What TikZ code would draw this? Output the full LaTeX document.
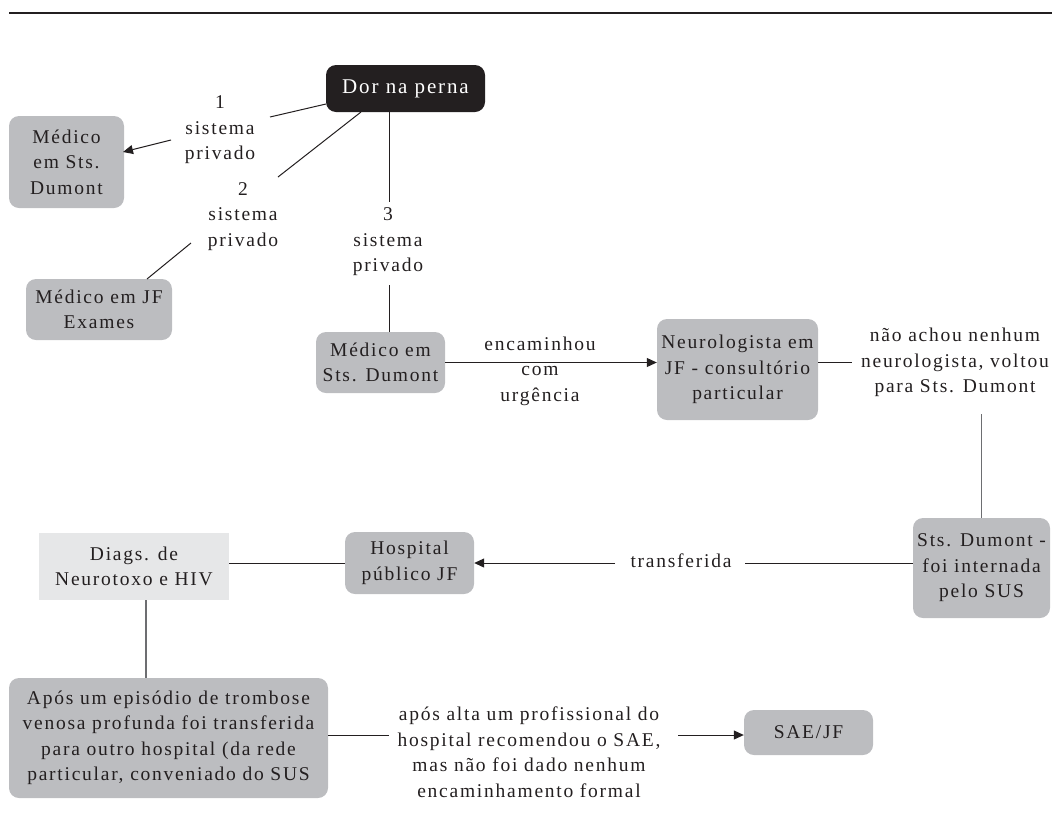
\documentclass[tikz,border=0pt]{standalone}
\usepackage{fontspec}
\setmainfont{Liberation Serif}[LetterSpace=9]
\usetikzlibrary{arrows.meta}
\definecolor{ink}{HTML}{231F20}
\definecolor{boxgray}{HTML}{BCBDC0}
\definecolor{lightbox}{HTML}{E6E7E8}
\definecolor{midline}{HTML}{6D6E71}
\newcommand{\txtfont}{\fontsize{19.5}{25.5}\selectfont}
\newcommand{\dorfont}{\fontsize{21}{26}\selectfont}
\begin{document}
\begin{tikzpicture}[x=1pt,y=-1pt,
  box/.style={rounded corners=10pt, fill=boxgray, text=ink, align=center, inner sep=0pt, font=\txtfont},
  lbox/.style={fill=lightbox, text=ink, align=center, inner sep=0pt, font=\txtfont},
  dorbox/.style={rounded corners=10pt, fill=ink, text=white, align=center, inner sep=0pt, font=\dorfont},
  lab/.style={text=ink, align=center, inner sep=0pt, font=\txtfont},
  conn/.style={draw=ink, line width=1pt},
  gconn/.style={draw=midline, line width=1.3pt},
  arr/.style={conn, -{Triangle[length=10pt,width=9pt]}}]
\useasboundingbox (0,0) rectangle (1052,828);
\draw[draw=ink, line width=1.5pt] (9,13) -- (1052,13);

% boxes
\node[dorbox, minimum width=159pt, minimum height=47pt] (dor) at (405.5,88.5) {Dor na perna};
\node[box, minimum width=115pt, minimum height=92pt] (med1) at (66.5,162) {Médico\\em Sts.\\Dumont};
\node[box, minimum width=146pt, minimum height=61pt] (medjf) at (99,309.5) {Médico em JF\\Exames};
\node[box, minimum width=129pt, minimum height=61pt] (med3) at (380.5,362.5) {Médico em\\Sts. Dumont};
\node[box, minimum width=161pt, minimum height=101pt] (neuro) at (737.5,369.5) {Neurologista em\\JF - consultório\\particular};
\node[box, minimum width=137pt, minimum height=100pt] (sts) at (981.5,568) {Sts. Dumont -\\foi internada\\pelo SUS};
\node[box, minimum width=129pt, minimum height=62pt] (hosp) at (409.5,563) {Hospital\\público JF};
\node[lbox, minimum width=190pt, minimum height=67pt] (diags) at (134,566.5) {Diags. de\\Neurotoxo e HIV};
\node[box, minimum width=319pt, minimum height=120pt] (apos) at (168.5,738) {Após um episódio de trombose\\venosa profunda foi transferida\\para outro hospital (da rede\\particular, conveniado do SUS};
\node[box, minimum width=129pt, minimum height=45pt] (sae) at (808.5,732.5) {SAE/JF};

% labels
\node[lab] (l1) at (220,130) {1\\sistema\\privado};
\node[lab] (l2) at (243,216.5) {2\\sistema\\privado};
\node[lab] (l3) at (388,242) {3\\sistema\\privado};
\node[lab] (l4) at (540,371) {encaminhou\\com\\urgência};
\node[lab] (l5) at (955,362.5) {não achou nenhum\\neurologista, voltou\\para Sts. Dumont};
\node[lab] (l6) at (681,561) {transferida};
\node[lab] (l7) at (529,752) {após alta um profissional do\\hospital recomendou o SAE,\\mas não foi dado nenhum\\encaminhamento formal};

% connector end points
\coordinate (a1) at (326,104);
\coordinate (a2) at (270,117);
\coordinate (a3) at (171,140);
\coordinate (a4) at (123,152);
\coordinate (b1) at (361,112);
\coordinate (b2) at (278,177);
\coordinate (b3) at (191,243);
\coordinate (b4) at (147,279);
\coordinate (c1) at (389,202);
\coordinate (c2) at (389,285);
\coordinate (n1) at (852,362);
\coordinate (n2) at (981.5,414);
\coordinate (t1) at (745,563);
\coordinate (t2) at (615,563);
\coordinate (dv) at (146,650);
\coordinate (u1) at (389,735);
\coordinate (u2) at (678,735);

% connectors
\draw[conn] (a1) -- (a2);
\draw[arr] (a3) -- (a4);
\draw[conn] (b1) -- (b2);
\draw[conn] (b3) -- (b4);
\draw[conn] (dor.south -| c1) -- (c1);
\draw[conn] (c2) -- (med3.north -| c2);
\draw[arr] (med3.east) -- (neuro.west |- med3.east);
\draw[conn] (neuro.east |- n1) -- (n1);
\draw[gconn] (n2) -- (sts.north);
\draw[conn] (sts.west |- t1) -- (t1);
\draw[arr] (t2) -- (hosp.east |- t2);
\draw[conn] (diags.east |- hosp.west) -- (hosp.west);
\draw[gconn] (diags.south -| dv) -- (apos.north -| dv);
\draw[conn] (apos.east |- u1) -- (u1);
\draw[arr] (u2) -- (sae.west |- u2);
\end{tikzpicture}
\end{document}
